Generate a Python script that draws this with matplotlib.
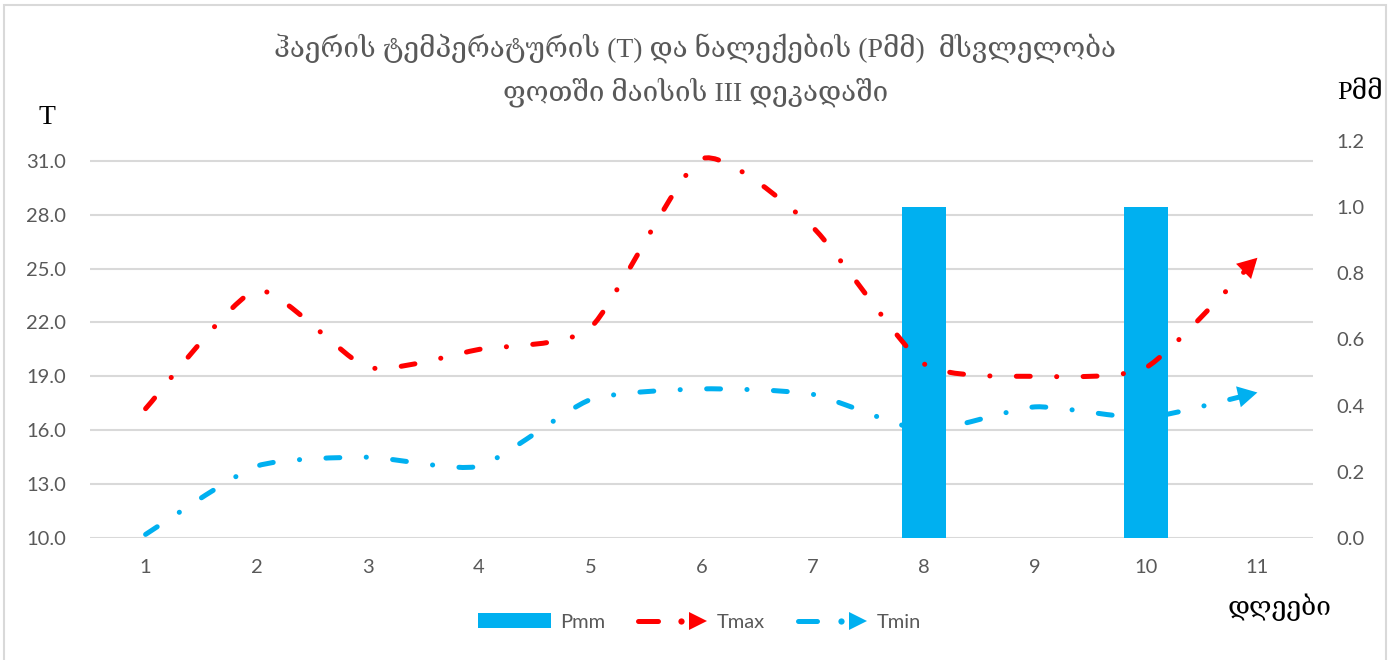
import numpy as np
import matplotlib
matplotlib.use('Agg')
import matplotlib.pyplot as plt
from matplotlib.path import Path
from matplotlib.patches import PathPatch, Rectangle, Patch
from matplotlib.lines import Line2D
from matplotlib.legend_handler import HandlerBase

days = [1, 2, 3, 4, 5, 6, 7, 8, 9, 10, 11]
tmax = [17.2, 23.8, 19.5, 20.5, 21.7, 31.1, 27.3, 19.7, 19.0, 19.5, 25.6]
tmin = [10.2, 14.0, 14.5, 14.0, 17.7, 18.3, 18.0, 16.0, 17.3, 16.7, 18.1]
pmm = [0, 0, 0, 0, 0, 0, 0, 1.0, 0, 1.0, 0]
t_ticks = [10, 13, 16, 19, 22, 25, 28, 31]
p_ticks = [0.0, 0.2, 0.4, 0.6, 0.8, 1.0, 1.2]

RED = '#FF0000'
BLUE = '#00B0F0'
GRAY = '#595959'
GRID = '#D9D9D9'
serif = ['Liberation Serif', 'DejaVu Serif']

plt.rcParams['font.family'] = ['Lato', 'DejaVu Sans']
plt.rcParams['lines.scale_dashes'] = False


def smooth_path(xs, ys, k=0.1):
    # smoothed line like excel: bezier segments through the points
    pts = np.column_stack([xs, ys]).astype(float)
    n = len(pts)
    verts = [pts[0]]
    codes = [Path.MOVETO]
    for i in range(n - 1):
        p0 = pts[i - 1] if i > 0 else pts[i]
        p1, p2 = pts[i], pts[i + 1]
        p3 = pts[i + 2] if i + 2 < n else pts[i + 1]
        verts += [p1 + (p2 - p0) * k, p2 - (p3 - p1) * k, p2]
        codes += [Path.CURVE4] * 3
    return Path(verts, codes)


class ArrowLine(HandlerBase):
    def create_artists(self, legend, orig, xd, yd, w, h, fs, trans):
        c = orig.get_color()
        x0 = -xd
        y = (h - yd) / 2
        a = Line2D([x0 + 0.04 * w, x0 + 0.31 * w], [y, y], color=c, lw=3.6,
                   solid_capstyle='round')
        b = Line2D([x0 + 0.63 * w], [y], marker='o', ms=4.5, mew=0, color=c)
        t = Line2D([x0 + 0.87 * w], [y], marker='>', ms=13, mew=0, color=c)
        for art in (a, b, t):
            art.set_transform(trans)
        return [a, b, t]


fig = plt.figure(figsize=(13.99, 6.6), dpi=100)
fig.patches.append(Rectangle((4 / 1399, -0.01), 1382 / 1399, 1 - 5 / 660 + 0.01,
                             transform=fig.transFigure, fill=False,
                             edgecolor=GRID, lw=1.5))

ax = fig.add_axes([90 / 1399, 1 - 538 / 660, 1223 / 1399, 397 / 660])
axb = ax.twinx()

ax.set_xlim(0.5, 11.5)
ax.set_ylim(10, 32.1)
ax.set_yticks(t_ticks)
ax.set_yticklabels([f'{v:.1f}' for v in t_ticks])
ax.set_xticks(days)
ax.grid(axis='y', color=GRID, lw=1.5)
ax.tick_params(length=0, labelsize=14.5, labelcolor=GRAY)
ax.tick_params(axis='y', pad=17)
ax.tick_params(axis='x', pad=15)
for s in ax.spines.values():
    s.set_visible(False)

axb.set_ylim(0, 1.2)
axb.set_yticks(p_ticks)
axb.set_yticklabels([f'{v:.1f}' for v in p_ticks])
axb.tick_params(length=0, labelsize=14.5, labelcolor=GRAY, pad=17)
for s in axb.spines.values():
    s.set_visible(False)

axb.bar(days, pmm, width=0.4, color=BLUE, zorder=1)

for vals, col in [(tmax, RED), (tmin, BLUE)]:
    pp = PathPatch(smooth_path(days, vals), transform=ax.transData, fill=False,
                   edgecolor=col, lw=3.6, linestyle=(0, (10, 19, 0.1, 19)),
                   capstyle='round', zorder=3)
    axb.add_patch(pp)
    tail = (days[-1] - 0.3 * (days[-1] - days[-2]), vals[-1] - 0.3 * (vals[-1] - vals[-2]))
    axb.annotate('', xy=(days[-1], vals[-1]), xycoords=ax.transData,
                 xytext=tail, textcoords=ax.transData,
                 arrowprops=dict(arrowstyle='-|>,head_length=1.0,head_width=0.55',
                                 color=col, lw=0, mutation_scale=14,
                                 shrinkA=0, shrinkB=0), zorder=4)

fig.text(0.497, 1 - 48 / 660, 'ჰაერის ტემპერატურის (T) და ნალექების (Pმმ)  მსვლელობა',
         ha='center', va='center', fontsize=20, color=GRAY, family=serif)
fig.text(0.497, 1 - 92 / 660, 'ფოთში მაისის III დეკადაში',
         ha='center', va='center', fontsize=20, color=GRAY, family=serif)
fig.text(47 / 1399, 1 - 118 / 660, 'T', ha='center', va='center', fontsize=20,
         color='black', family=serif)
fig.text(1360 / 1399, 1 - 93 / 660, 'Pმმ', ha='center', va='center', fontsize=19,
         color='black', family=serif)
fig.text(1280 / 1399, 1 - 607 / 660, 'დღეები', ha='center', va='center', fontsize=19,
         color='black', family=serif)

h_p = Patch(facecolor=BLUE, edgecolor='none')
h_x = Line2D([], [], color=RED)
h_n = Line2D([], [], color=BLUE)
fig.legend([h_p, h_x, h_n], ['Pmm', 'Tmax', 'Tmin'], loc='center',
           bbox_to_anchor=(0.5, 1 - 622 / 660), ncol=3, frameon=False,
           fontsize=14.5, labelcolor=GRAY, handlelength=3.6, handleheight=0.7,
           handletextpad=0.45, columnspacing=1.5,
           handler_map={h_x: ArrowLine(), h_n: ArrowLine()})

fig.savefig('out.png', dpi=100)
